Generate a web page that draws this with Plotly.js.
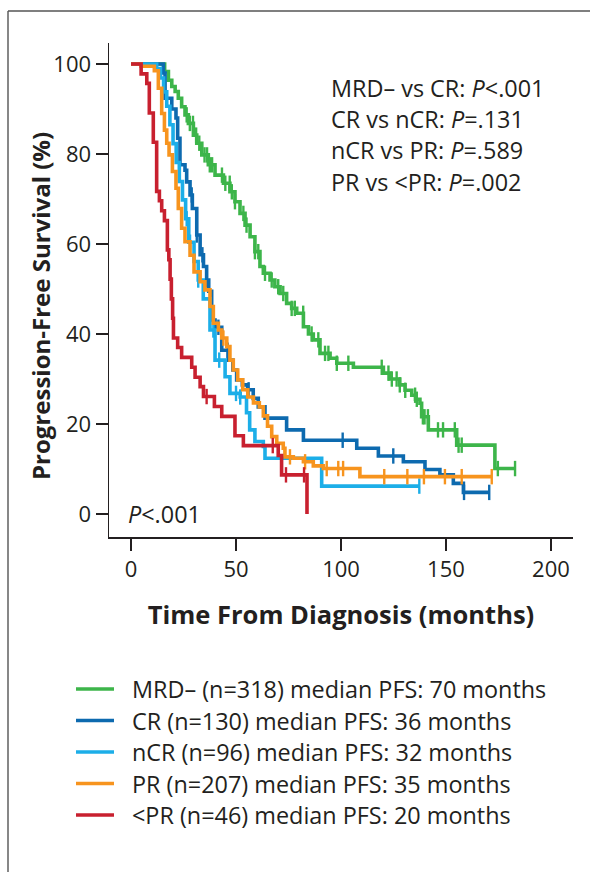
<!DOCTYPE html>
<html><head><meta charset="utf-8">
<script src="https://cdn.plot.ly/plotly-3.0.1.min.js"></script>
<style>html,body{margin:0;padding:0;background:#fff}#chart{width:590px;height:872px}</style>
</head><body><div id="chart"></div>
<script>
// ---------- data ----------
const groupNames = ["MRD–", "CR", "nCR", "PR", "<PR"];
const groupN = [318, 130, 96, 207, 46];
const medianPFS = [70, 36, 32, 35, 20];
const colors = ["#3DB54A", "#0D6AAF", "#1CAEE8", "#F7941E", "#C8202F"];

// Kaplan–Meier steps: time (months) at which survival (%) drops to the value
const mrdT = [0, 16, 17.8, 19.4, 21, 22.5, 24.1, 25.7, 27.3, 29.7, 31.3, 33.7, 36.8, 40, 44, 47.1, 49.5, 51.9, 54.3, 56.7, 59, 61.4, 63, 66.2, 68.5, 71, 74.1, 76.5, 78.9, 82.1, 84.5, 86.8, 90, 94.8, 98, 105.9, 120.2, 123.3, 128, 130.5, 133.7, 135.5, 137.6, 138.4, 141.6, 155.1, 173.3, 182.9];
const mrdS = [100, 98.3, 96.4, 95, 93.9, 92.4, 90.5, 88.7, 86.8, 84.2, 82.4, 79.8, 77.6, 75.3, 73.5, 71.6, 69.4, 66.8, 64.2, 61.6, 58.3, 55, 53.5, 52, 50.5, 49, 46.8, 45.7, 44.6, 41.6, 40, 38.7, 35.7, 34.6, 33.5, 32.6, 31.3, 30, 28.7, 27.5, 26.4, 25.5, 24.6, 21.6, 18.7, 15.3, 10.1, 10.1];
const mrdCens = [26.5, 28, 29.5, 31, 32.5, 35, 36.2, 37.5, 38.6, 43.3, 44.9, 47, 48, 49.5, 53.5, 55, 59, 60.6, 63.8, 67, 70.1, 72.5, 76.5, 78, 82, 86, 89.2, 92.4, 94, 98, 103.5, 119.4, 122.6, 124.2, 126.5, 128, 130.6, 135.3, 136.1, 139, 139.8, 141.4, 146.2, 148.6, 154.2, 156, 157.5, 174.7, 182.9];

const crT = [0, 15.4, 16.2, 19.4, 21.4, 22.2, 23.3, 25.7, 26.5, 28.1, 29.2, 31.3, 32.9, 34.5, 36, 37, 38.4, 40, 43.2, 46.3, 48.5, 50.3, 53, 55.5, 58.2, 60.6, 63.8, 74.1, 82.1, 107.5, 117.8, 129.7, 140, 147.1, 153.5, 158.3, 170.6];
const crS = [100, 98, 92.4, 90, 88, 83.5, 77.6, 76.4, 73.8, 70.9, 67.9, 62, 57.6, 55, 52, 49.5, 43.1, 41.5, 36.4, 34.2, 32, 29.8, 28.7, 27.6, 25.7, 23.8, 21.3, 18.7, 16.4, 14.6, 12.9, 11.6, 9.9, 8.7, 6.8, 4.8, 4.8];
const crCens = [28.9, 31.3, 34, 36, 41.6, 46, 56, 100.8, 124.9, 158.6, 170.6];

const ncrT = [0, 12.2, 14, 15.5, 17, 18.5, 20, 21.5, 23, 24.5, 26, 27.5, 30, 32, 34.4, 37.6, 40, 44.8, 47.1, 52, 55, 56.5, 59, 63, 63.8, 90.8, 137.3];
const ncrS = [100, 99, 96.9, 93.8, 90.6, 86.5, 82.3, 78.1, 73.9, 69.8, 65.6, 60.4, 56.1, 52, 47.8, 40.9, 34.2, 30.5, 26.8, 26, 22.5, 18.7, 16.1, 15, 12.4, 6.2, 6.2];
const ncrCens = [26.5, 28.1, 32, 39.2, 42, 50, 52, 137.3];

const prT = [0, 4.8, 11.1, 13, 14.6, 15.9, 17, 18.1, 19.7, 21.4, 22.5, 24.1, 25.7, 28.1, 30, 32.9, 35.2, 37.6, 39.2, 41.6, 43.2, 45.6, 47.1, 48.7, 50.8, 53.2, 55.6, 58.3, 61.1, 63, 65, 67, 69.4, 72.5, 73.3, 77.3, 82.1, 86.8, 91.6, 109, 171.8];
const prS = [100, 99.5, 98.5, 94.6, 89, 85.3, 82.4, 79.8, 76.1, 72.4, 67.9, 63.5, 60.5, 57.5, 53.8, 51.6, 49.8, 46.1, 42.4, 40.9, 39.1, 37.2, 34.2, 32, 29.8, 27.6, 26, 24.7, 23.8, 21.8, 19.5, 17.2, 15.7, 14.6, 12.7, 12.4, 11.6, 10.7, 10.1, 8.3, 8.3];
const prCens = [44, 75.7, 82.9, 93.2, 98.7, 101, 120.6, 131.6, 139.5, 149.5, 157.5, 171.8];

const lprT = [0, 4.8, 7.5, 8.7, 10.6, 12.2, 13.5, 14.6, 15.9, 17.3, 18, 18.6, 19.2, 19.8, 20.2, 22.2, 24.1, 28.9, 30.5, 32.9, 34.5, 39.7, 43.2, 49.5, 53.5, 70.1, 71.7, 83.8];
const lprS = [100, 97.8, 95.7, 89.1, 82.6, 71.7, 69.6, 67.4, 65.2, 58.7, 56.5, 52.2, 47.8, 43.5, 39.1, 37, 34.8, 32.6, 30.4, 28.3, 26.1, 23.9, 21.7, 17.4, 15.2, 13, 8.7, 0];
const lprCens = [36, 67.5, 73.8, 82.4];

const pTexts = ["MRD– vs CR: <i>P</i><.001", "CR vs nCR: <i>P</i>=.131", "nCR vs PR: <i>P</i>=.589", "PR vs <PR: <i>P</i>=.002"];
const overallP = "<i>P</i><.001";
const xTicks = [0, 50, 100, 150, 200];
const yTicks = [0, 20, 40, 60, 80, 100];

// ---------- build ----------
const series = [
  {T: mrdT, S: mrdS, C: mrdCens},
  {T: crT, S: crS, C: crCens},
  {T: ncrT, S: ncrS, C: ncrCens},
  {T: prT, S: prS, C: prCens},
  {T: lprT, S: lprS, C: lprCens}
];
function survAt(T, S, t) {
  let v = S[0];
  for (let i = 0; i < T.length; i++) { if (T[i] <= t) v = S[i]; else break; }
  return v;
}
const FONT = "Open Sans, Noto Sans, sans-serif";
const TXT = "#231f20";
const traces = [];
series.forEach((s, g) => {
  traces.push({
    type: "scatter", mode: "lines", x: s.T, y: s.S,
    line: {shape: "hv", color: colors[g], width: 3.6},
    name: groupNames[g], showlegend: false, hoverinfo: "skip"
  });
  traces.push({
    type: "scatter", mode: "markers", x: s.C, y: s.C.map(t => survAt(s.T, s.S, t)),
    marker: {symbol: "line-ns", size: 11, line: {color: colors[g], width: 2.4}},
    showlegend: false, hoverinfo: "skip"
  });
});

const W = 590, H = 872, L = 109, R = 17, T = 43, B = 335;
const pw = W - L - R, ph = H - T - B;
const px = v => (v - L) / pw;
const py = v => (H - B - v) / ph;

const annotations = pTexts.map((t, i) => ({
  text: t, x: 94.4, y: [94.7, 87.8, 80.9, 73.8][i], xref: "x", yref: "y",
  xanchor: "left", yanchor: "middle", showarrow: false,
  font: {family: FONT, size: 23.4, color: TXT}
}));
annotations.push({
  text: overallP, x: -2.6, y: 0, xref: "x", yref: "y", xanchor: "left", yanchor: "middle",
  showarrow: false, font: {family: FONT, size: 23.4, color: TXT}
});
annotations.push({
  text: "Progression-Free Survival (%)", x: px(40), y: py(306), xref: "paper", yref: "paper",
  textangle: -90, showarrow: false, xanchor: "center", yanchor: "middle",
  font: {family: FONT, size: 24, color: TXT, weight: 700}
});

// legend (line sample + label per group)
const legendRows = [689, 720.5, 752, 783.5, 815];
const shapes = [
  {type: "line", xref: "paper", yref: "paper", x0: px(8), x1: px(8), y0: py(900), y1: py(11), line: {color: "#7a7a7a", width: 1.8}},
  {type: "line", xref: "paper", yref: "paper", x0: px(8), x1: px(610), y0: py(11), y1: py(11), line: {color: "#555", width: 1.5}}
];
groupNames.forEach((nm, g) => {
  shapes.push({type: "line", xref: "paper", yref: "paper", x0: px(76), x1: px(114),
    y0: py(legendRows[g]), y1: py(legendRows[g]), line: {color: colors[g], width: 3.6}});
  annotations.push({
    text: `${nm.replace("<", "&lt;")} (n=${groupN[g]}) median PFS: ${medianPFS[g]} months`,
    x: px(130), y: py(legendRows[g]), xref: "paper", yref: "paper",
    xanchor: "left", yanchor: "middle", showarrow: false,
    font: {family: FONT, size: 23.4, color: TXT}
  });
});

const layout = {
  width: W, height: H,
  margin: {l: L, r: R, t: T, b: B},
  paper_bgcolor: "#fff", plot_bgcolor: "#fff",
  font: {family: FONT, size: 22, color: TXT},
  showlegend: false,
  xaxis: {
    range: [-10.5, 210.5], tickvals: xTicks, ticks: "outside", ticklen: 12, tickwidth: 1.5,
    tickcolor: TXT, showline: true, linecolor: TXT, linewidth: 1.5, showgrid: false, zeroline: false,
    tickfont: {family: FONT, size: 22, color: TXT},
    title: {text: "Time From Diagnosis (months)", font: {family: FONT, size: 25.5, color: TXT, weight: 700}}
  },
  yaxis: {
    range: [-5.11, 104.67], tickvals: yTicks, ticks: "outside", ticklen: 12, tickwidth: 1.5,
    tickcolor: TXT, showline: true, linecolor: TXT, linewidth: 1.5, showgrid: false, zeroline: false,
    tickfont: {family: FONT, size: 22, color: TXT}
  },
  annotations: annotations,
  shapes: shapes
};
Plotly.newPlot("chart", traces, layout, {staticPlot: true, displayModeBar: false});
</script></body></html>
